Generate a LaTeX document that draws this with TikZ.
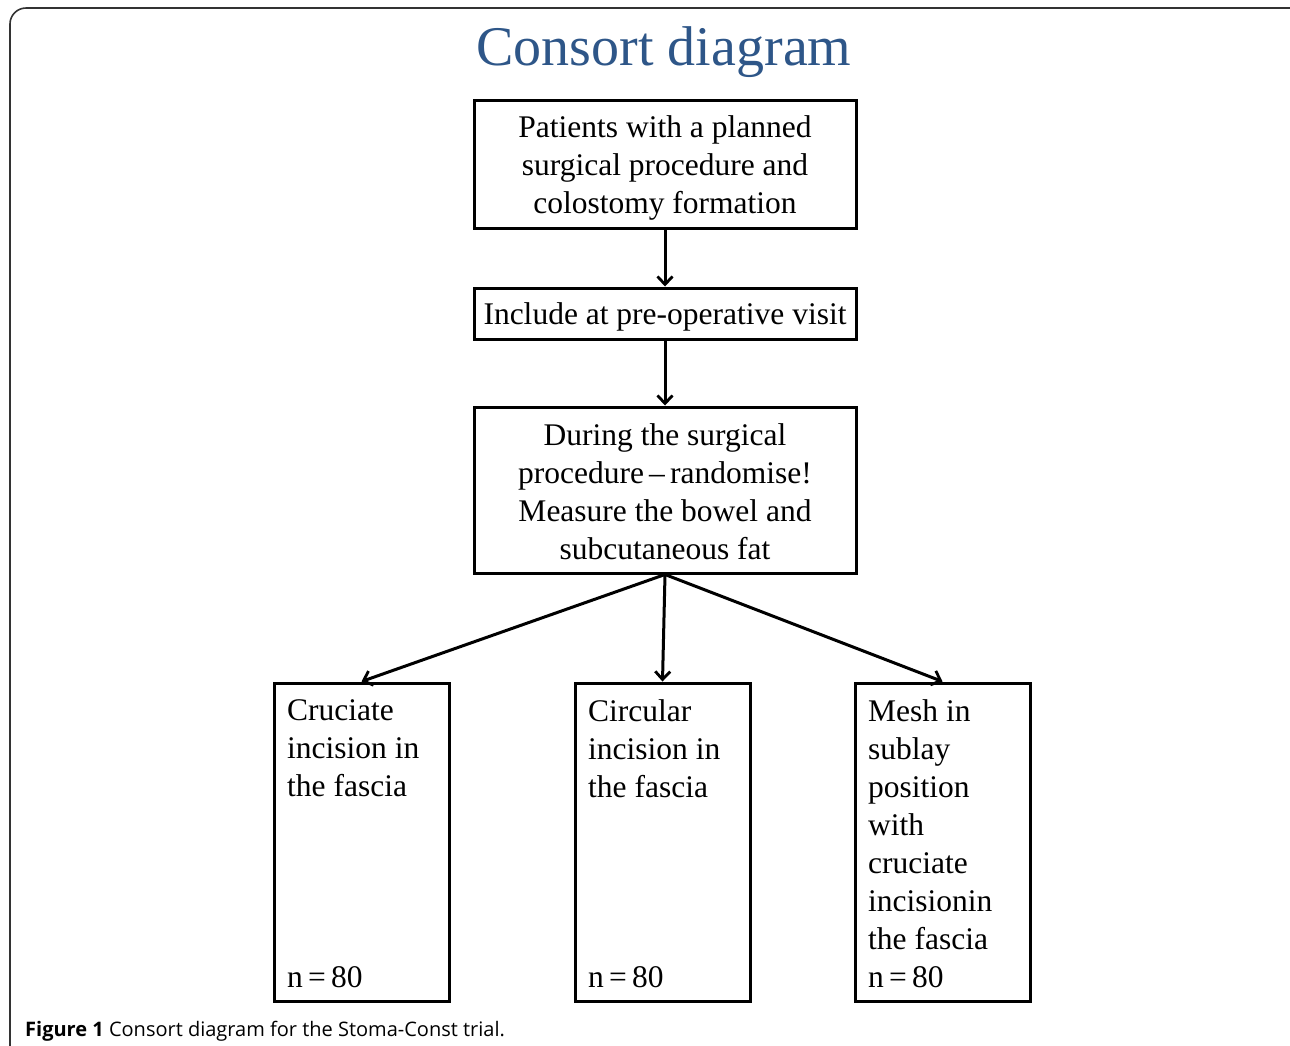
\documentclass[tikz,border=0pt]{standalone}
\usepackage{fontspec}
\setmainfont{Liberation Serif}
\setsansfont{Open Sans}
\usetikzlibrary{arrows.meta}
\definecolor{titleblue}{RGB}{46,86,136}
\begin{document}
\begin{tikzpicture}[x=1pt,y=-1pt,
  box/.style={draw, line width=3pt, inner sep=0pt},
  arr/.style={line width=3pt, -{Straight Barb[length=8pt,width=15pt,line width=2.8pt]}},
  txt/.style={font=\fontsize{31.5}{38}\selectfont, align=center, inner sep=0pt},
  ltxt/.style={font=\fontsize{31.5}{38}\selectfont, align=left, inner sep=0pt}]
\useasboundingbox (0,0) rectangle (1290,1045);
\draw[line width=1.6pt, black!80, rounded corners=16pt] (10,1060) -- (10,8) -- (1300,8);
\node[font=\fontsize{56}{66}\selectfont, text=titleblue] (title) at (664,52) {Consort diagram};
\node[box, minimum width=382pt, minimum height=128pt] (b1) at (665,164) {};
\node[box, minimum width=382pt, minimum height=51pt] (b2) at (665,313.5) {};
\node[box, minimum width=382pt, minimum height=166pt] (b3) at (665,490) {};
\node[txt] (b1t) at ([yshift=-4pt]b1.center) {Patients with a planned\\surgical procedure and\\colostomy formation};
\node[txt] (b2t) at ([yshift=-3.5pt]b2.center) {Include at pre-operative visit};
\node[txt] (b3t) at ([yshift=-1.5pt]b3.center) {During the surgical\\procedure\,--\,randomise!\\Measure the bowel and\\subcutaneous fat};
\node[box, minimum width=175pt, minimum height=318pt] (c1) at (361.5,842) {};
\node[box, minimum width=175pt, minimum height=318pt] (c2) at (662.5,842) {};
\node[box, minimum width=175pt, minimum height=318pt] (c3) at (942.5,842) {};
\node[ltxt, anchor=north west] (c1t) at (287,699) {Cruciate\\incision in\\the fascia};
\node[ltxt, anchor=north west] (c2t) at (588,699) {Circular\\incision in\\the fascia};
\node[ltxt, anchor=north west] (c3t) at (868,699) {Mesh in\\sublay\\position\\with\\cruciate\\incisionin\\the fascia};
\node[ltxt, anchor=base west] (c1n) at (287,987) {n\,=\,80};
\node[ltxt, anchor=base west] (c2n) at (588,987) {n\,=\,80};
\node[ltxt, anchor=base west] (c3n) at (868,987) {n\,=\,80};
\draw[arr] (b1) -- (b2);
\draw[arr] (b2) -- (b3);
\draw[arr] (b3.south) -- (c1.north);
\draw[arr] (b3.south) -- (c2.north);
\draw[arr] (b3.south) -- (c3.north);
\node[anchor=base west, font=\sffamily\fontsize{20}{24}\selectfont, inner sep=0pt] (cap) at (25,1036) {\textbf{Figure 1} Consort diagram for the Stoma-Const trial.};
\end{tikzpicture}
\end{document}
